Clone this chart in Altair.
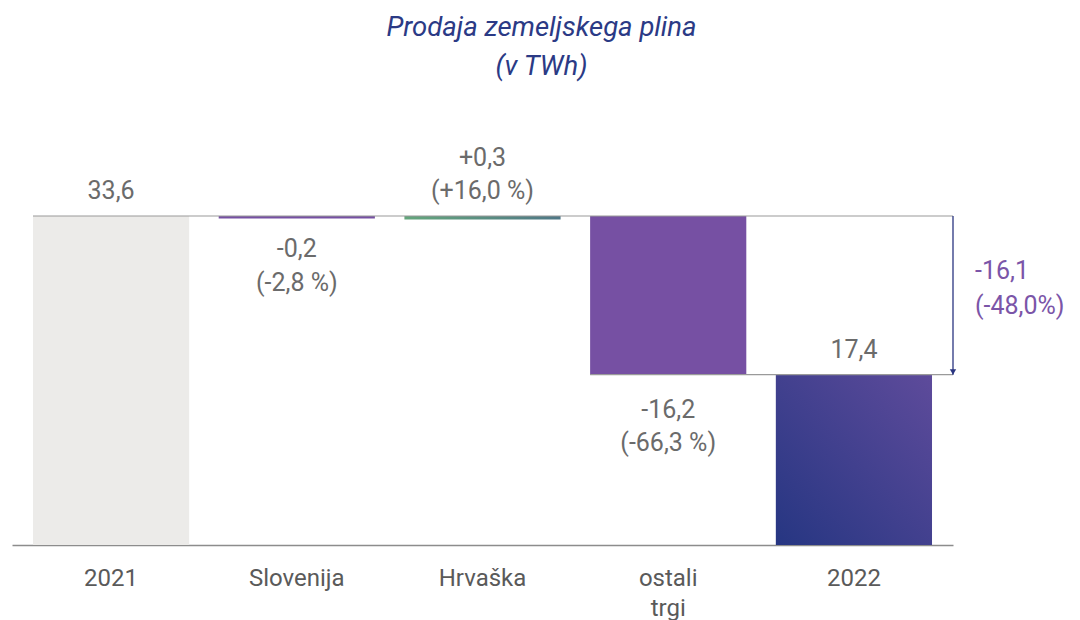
import altair as alt
import pandas as pd

# ---- data ----
categories = ["2021", "Slovenija", "Hrvaška", "ostali trgi", "2022"]
bar_start = [0.0, 33.6, 33.6, 33.6, 0.0]
bar_end = [33.6, 33.35, 33.25, 17.4, 17.4]
bar_colors = ["#ecebe9", "#7650a3", None, "#7650a3", None]

above_cats = ["2021", "2022"]
above_vals = [33.6, 17.4]
above_text = ["33,6", "17,4"]

above2_cats = ["Hrvaška"]
above2_vals = [33.6]
above2_text = ["+0,3\n(+16,0 %)"]

below1_cats = ["Slovenija"]
below1_vals = [33.35]
below1_text = ["-0,2\n(-2,8 %)"]

below2_cats = ["ostali trgi"]
below2_vals = [17.4]
below2_text = ["-16,2\n(-66,3 %)"]

total_start = 33.6
total_end = 17.4
total_text = "-16,1\n(-48,0%)"

title_lines = ["Prodaja zemeljskega plina", "(v TWh)"]

W = 941
H = 329
FONT = "Roboto"
GRAY_TXT = "#6b6b6b"
FS = 25

bars = pd.DataFrame({"cat": categories, "start": bar_start, "end": bar_end,
                     "color": [c if c else "" for c in bar_colors]})
xscale = alt.Scale(domain=categories, paddingInner=0.159, paddingOuter=0.113)
yscale = alt.Scale(domain=[0, 33.6], nice=False, zero=True)

X = alt.X("cat:N", scale=xscale, sort=categories, title=None,
          axis=alt.Axis(labelAngle=0, ticks=False, domainColor="#8c8c8c", domainWidth=1.5,
                        labelFont=FONT, labelFontSize=24, labelColor="#5a5a5a",
                        labelPadding=21, labelLineHeight=30,
                        labelExpr="datum.label == 'ostali trgi' ? ['ostali', 'trgi'] : datum.label"))
Y = alt.Y("start:Q", scale=yscale, axis=None)

solid = alt.Chart(bars).transform_filter("datum.color != ''").mark_bar().encode(
    x=X, y=Y, y2="end:Q",
    color=alt.Color("color:N", scale=None),
)

hr = alt.Chart(bars).transform_filter("datum.cat == 'Hrvaška'").mark_bar(
    color=alt.LinearGradient(gradient="linear", x1=0, y1=0, x2=1, y2=0,
                             stops=[alt.GradientStop(offset=0, color="#64a67c"),
                                    alt.GradientStop(offset=1, color="#4f7786")])
).encode(x=X, y=Y, y2="end:Q")

y22 = alt.Chart(bars).transform_filter("datum.cat == '2022'").mark_bar(
    color=alt.LinearGradient(gradient="linear", x1=1, y1=0, x2=0, y2=1,
                             stops=[alt.GradientStop(offset=0, color="#5e4b9b"),
                                    alt.GradientStop(offset=1, color="#263682")])
).encode(x=X, y=Y, y2="end:Q")

top_rule = alt.Chart(pd.DataFrame({"cat": [categories[0]], "v": [total_start]})).mark_rule(
    color="#9a9a9a", strokeWidth=1.2
).encode(x=alt.X("cat:N", scale=xscale, bandPosition=0), x2=alt.value(W),
         y=alt.Y("v:Q", scale=yscale))

bot_rule = alt.Chart(pd.DataFrame({"cat": [categories[3]], "v": [total_end]})).mark_rule(
    color="#9a9a9a", strokeWidth=1.2
).encode(x=alt.X("cat:N", scale=xscale, bandPosition=0), x2=alt.value(W),
         y=alt.Y("v:Q", scale=yscale))

tot = pd.DataFrame({"a": [total_start], "b": [total_end], "t": [total_text],
                    "m": [(total_start + total_end) / 2]})
arrow_line = alt.Chart(tot).mark_rule(color="#2a3580", strokeWidth=1.3).encode(
    x=alt.value(W), y=alt.Y("a:Q", scale=yscale), y2="b:Q")
arrow_head = alt.Chart(tot).mark_point(
    shape="M-1,-1.7L1,-1.7L0,0Z", filled=True, size=40, color="#2a3580", opacity=1
).encode(x=alt.value(W), y=alt.Y("b:Q", scale=yscale))
tot_label = alt.Chart(tot).mark_text(
    align="left", baseline="middle", font=FONT, fontSize=FS, color="#7b55a8",
    lineBreak="\n", lineHeight=35, dx=22, dy=-24
).encode(x=alt.value(W), y=alt.Y("m:Q", scale=yscale), text="t:N")

above = alt.Chart(pd.DataFrame({"cat": above_cats, "v": above_vals, "t": above_text})).mark_text(
    baseline="bottom", font=FONT, fontSize=FS, color=GRAY_TXT, dy=-12
).encode(x=alt.X("cat:N", scale=xscale), y=alt.Y("v:Q", scale=yscale), text="t:N")

above2 = alt.Chart(pd.DataFrame({"cat": above2_cats, "v": above2_vals, "t": above2_text})).mark_text(
    baseline="bottom", font=FONT, fontSize=FS, color=GRAY_TXT, lineBreak="\n",
    lineHeight=33, dy=-45
).encode(x=alt.X("cat:N", scale=xscale), y=alt.Y("v:Q", scale=yscale), text="t:N")

below1 = alt.Chart(pd.DataFrame({"cat": below1_cats, "v": below1_vals, "t": below1_text})).mark_text(
    baseline="top", font=FONT, fontSize=FS, color=GRAY_TXT, lineBreak="\n",
    lineHeight=34, dy=19
).encode(x=alt.X("cat:N", scale=xscale), y=alt.Y("v:Q", scale=yscale), text="t:N")

below2 = alt.Chart(pd.DataFrame({"cat": below2_cats, "v": below2_vals, "t": below2_text})).mark_text(
    baseline="top", font=FONT, fontSize=FS, color=GRAY_TXT, lineBreak="\n",
    lineHeight=33, dy=23
).encode(x=alt.X("cat:N", scale=xscale), y=alt.Y("v:Q", scale=yscale), text="t:N")

chart = alt.layer(
    solid, hr, y22, top_rule, bot_rule, arrow_line, arrow_head, tot_label,
    above, above2, below1, below2
).properties(
    width=W, height=H,
    title=alt.TitleParams(title_lines, anchor="middle", dx=59, offset=66, font=FONT,
                          fontSize=27.5, fontStyle="italic", fontWeight="normal",
                          color="#2b3a85", lineHeight=39),
    autosize=alt.AutoSizeParams(type="none"),
    padding={"left": 4, "top": 208, "right": 119, "bottom": 80},
    background="white",
).configure_view(stroke=None)

chart.save("out.html", embed_options={"renderer": "svg", "actions": False})
